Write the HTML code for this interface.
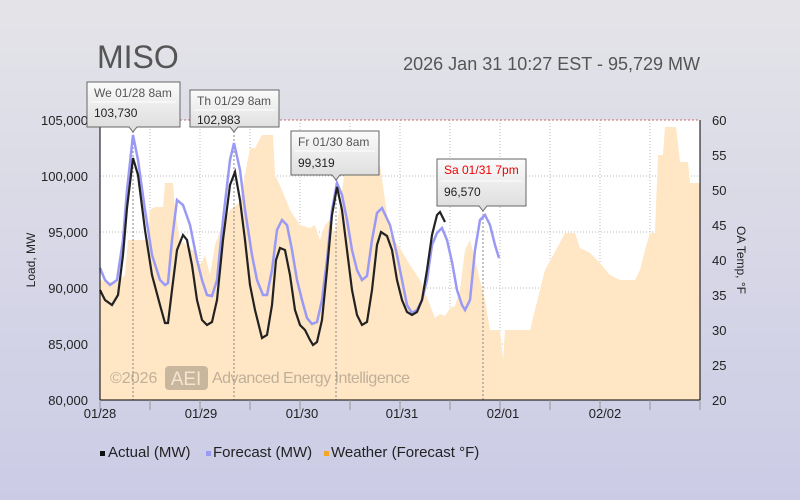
<!DOCTYPE html>
<html><head><meta charset="utf-8"><style>
body{margin:0;width:800px;height:500px;overflow:hidden;background:linear-gradient(#e4e4e8,#cbcbe6);font-family:"Liberation Sans",sans-serif}
</style></head><body>
<svg width="800" height="500" xmlns="http://www.w3.org/2000/svg" style="position:absolute;left:0;top:0;font-family:'Liberation Sans',sans-serif">
<defs><linearGradient id="tg" x1="0" y1="0" x2="0" y2="1"><stop offset="0" stop-color="#fbfbfb"/><stop offset="1" stop-color="#dcdcdc"/></linearGradient></defs>
<text x="97" y="68" font-size="32" fill="#555">MISO</text>
<text x="700" y="70" font-size="18" fill="#555" text-anchor="end">2026 Jan 31 10:27 EST - 95,729 MW</text>
<rect x="100" y="120" width="600" height="280" fill="#fff"/>
<g stroke="#bbb" stroke-dasharray="1,2" stroke-width="1">
<line x1="100" y1="176" x2="700" y2="176"/><line x1="100" y1="232" x2="700" y2="232"/><line x1="100" y1="288" x2="700" y2="288"/><line x1="100" y1="344" x2="700" y2="344"/>
<line x1="150" y1="120" x2="150" y2="400"/><line x1="200" y1="120" x2="200" y2="400"/><line x1="250" y1="120" x2="250" y2="400"/><line x1="300" y1="120" x2="300" y2="400"/><line x1="350" y1="120" x2="350" y2="400"/><line x1="400" y1="120" x2="400" y2="400"/><line x1="450" y1="120" x2="450" y2="400"/><line x1="500" y1="120" x2="500" y2="400"/><line x1="550" y1="120" x2="550" y2="400"/><line x1="600" y1="120" x2="600" y2="400"/><line x1="650" y1="120" x2="650" y2="400"/>
</g>
<polygon fill="#ffe6c4" points="100,400 100,280 110,282 117,282 125,275 128,240 138,240 148,240 150,210 155,207 163,207 165,183 173,183 175,210 180,240 195,252 200,265 205,255 210,275 215,245 222,225 230,210 240,202 250,148 255,148 262,135 273,135 275,175 282,190 290,210 300,225 310,228 315,225 320,240 325,225 330,220 335,235 340,205 345,170 370,170 380,165 385,200 390,235 400,248 410,265 420,280 430,305 435,318 440,314 445,316 450,308 455,306 460,290 465,250 470,240 475,260 480,280 485,300 490,330 500,330 503,360 505,330 530,330 535,310 545,270 555,252 565,233 575,233 580,248 590,253 600,263 610,275 620,280 635,280 640,270 645,250 650,233 655,233 658,155 663,155 665,127 676,127 680,162 688,162 690,183 700,183 700,400"/>
<text x="110" y="383" font-size="16" fill="#c0b09a">©2026</text>
<rect x="165" y="366" width="43" height="24" rx="4" fill="#c9b79d"/>
<text x="186" y="385" font-size="19" fill="#f3e6d2" text-anchor="middle">AEI</text>
<text x="212" y="383" font-size="16" fill="#c0b09a" textLength="198">Advanced Energy Intelligence</text>
<g stroke="#888" stroke-dasharray="2,2" stroke-width="1"><line x1="133" y1="127" x2="133" y2="400"/><line x1="234" y1="127" x2="234" y2="400"/><line x1="336" y1="175" x2="336" y2="400"/><line x1="483" y1="206" x2="483" y2="400"/></g>
<line x1="100" y1="120" x2="700" y2="120" stroke="#c66" stroke-dasharray="2,2"/>
<polyline fill="none" stroke="#9a9af5" stroke-width="2.5" points="100,268 105,280 110,285 117,280 123,240 127,190 133,135 138,160 145,210 152,255 160,280 165,285 168,283 172,240 177,200 183,205 190,225 197,260 202,280 207,295 212,296 217,280 223,220 230,160 234,143 240,170 245,210 252,255 257,280 263,295 267,295 272,270 277,230 282,220 287,225 292,250 297,280 302,300 307,318 312,324 317,322 322,300 327,260 332,210 337,183 342,195 347,220 352,250 357,270 362,280 367,276 372,240 377,213 382,208 390,225 397,255 402,280 407,305 412,313 417,310 422,300 427,280 432,245 437,233 442,228 447,240 452,262 457,290 462,305 465,310 470,300 475,250 480,220 485,215 490,225 495,245 499,258"/>
<polyline fill="none" stroke="#222" stroke-width="2.2" points="100,290 105,300 112,305 118,295 123,255 127,208 133,158 138,175 145,230 152,275 160,305 165,323 168,323 172,290 177,250 183,235 187,240 192,265 197,300 202,320 207,325 212,322 217,300 223,240 230,185 235,172 240,200 245,240 250,285 255,310 262,338 267,335 272,305 276,260 280,248 285,250 290,275 295,310 300,325 305,330 310,340 313,345 317,342 322,320 327,270 332,215 337,187 342,210 347,250 352,290 357,315 362,325 367,322 372,290 377,245 381,232 387,236 392,250 397,280 402,300 407,312 412,315 417,312 422,300 427,270 432,235 437,215 440,212 445,222"/>
<line x1="100" y1="120" x2="100" y2="400" stroke="#000"/><line x1="700" y1="120" x2="700" y2="400" stroke="#000"/><line x1="100" y1="400" x2="700" y2="400" stroke="#000"/>
<g stroke="#999"><line x1="100" y1="400" x2="100" y2="410"/><line x1="150" y1="400" x2="150" y2="410"/><line x1="200" y1="400" x2="200" y2="410"/><line x1="250" y1="400" x2="250" y2="410"/><line x1="300" y1="400" x2="300" y2="410"/><line x1="350" y1="400" x2="350" y2="410"/><line x1="400" y1="400" x2="400" y2="410"/><line x1="450" y1="400" x2="450" y2="410"/><line x1="500" y1="400" x2="500" y2="410"/><line x1="550" y1="400" x2="550" y2="410"/><line x1="600" y1="400" x2="600" y2="410"/><line x1="650" y1="400" x2="650" y2="410"/><line x1="700" y1="400" x2="700" y2="410"/></g>
<g font-size="13" fill="#222" text-anchor="end">
<text x="88" y="125">105,000</text><text x="88" y="181">100,000</text><text x="88" y="237">95,000</text><text x="88" y="293">90,000</text><text x="88" y="349">85,000</text><text x="88" y="405">80,000</text></g>
<g font-size="13" fill="#222">
<text x="712" y="125">60</text><text x="712" y="160">55</text><text x="712" y="195">50</text><text x="712" y="230">45</text><text x="712" y="265">40</text><text x="712" y="300">35</text><text x="712" y="335">30</text><text x="712" y="370">25</text><text x="712" y="405">20</text></g>
<g font-size="13" fill="#222" text-anchor="middle">
<text x="100" y="418">01/28</text><text x="201" y="418">01/29</text><text x="302" y="418">01/30</text><text x="402" y="418">01/31</text><text x="503" y="418">02/01</text><text x="605" y="418">02/02</text></g>
<text transform="translate(35,260) rotate(-90)" font-size="12" fill="#222" text-anchor="middle">Load, MW</text>
<text transform="translate(737,260) rotate(90)" font-size="12" fill="#222" text-anchor="middle">OA Temp, °F</text>
<g font-size="12">
<path d="M87,82h93v45h-43l-4,5l-4,-5h-42z" fill="url(#tg)" stroke="#666"/><line x1="91" y1="102" x2="176" y2="102" stroke="#fff"/>
<text x="94" y="97" fill="#555">We 01/28 8am</text><text x="94" y="117" fill="#222">103,730</text>
<path d="M190,90h89v37h-41l-4,5l-4,-5h-40z" fill="url(#tg)" stroke="#666"/><line x1="194" y1="110" x2="275" y2="110" stroke="#fff"/>
<text x="197" y="105" fill="#555">Th 01/29 8am</text><text x="197" y="124" fill="#222">102,983</text>
<path d="M291,131h88v44h-39l-4,5l-4,-5h-41z" fill="url(#tg)" stroke="#666"/><line x1="295" y1="151" x2="375" y2="151" stroke="#fff"/>
<text x="298" y="146" fill="#555">Fr 01/30 8am</text><text x="298" y="167" fill="#222">99,319</text>
<path d="M437,159h89v47h-39l-4,5l-4,-5h-42z" fill="url(#tg)" stroke="#666"/><line x1="441" y1="181" x2="522" y2="181" stroke="#fff"/>
<text x="444" y="174" fill="#e00">Sa 01/31 7pm</text><text x="444" y="196" fill="#222">96,570</text>
</g>
<g font-size="15" fill="#222">
<rect x="100" y="451" width="5" height="5" fill="#111"/><text x="108" y="457">Actual (MW)</text>
<rect x="206" y="451" width="5" height="5" fill="#9a9af5"/><text x="213" y="457">Forecast (MW)</text>
<rect x="324" y="451" width="5" height="5" fill="#f5a623"/><text x="331" y="457">Weather (Forecast °F)</text>
</g>
</svg>
</body></html>
